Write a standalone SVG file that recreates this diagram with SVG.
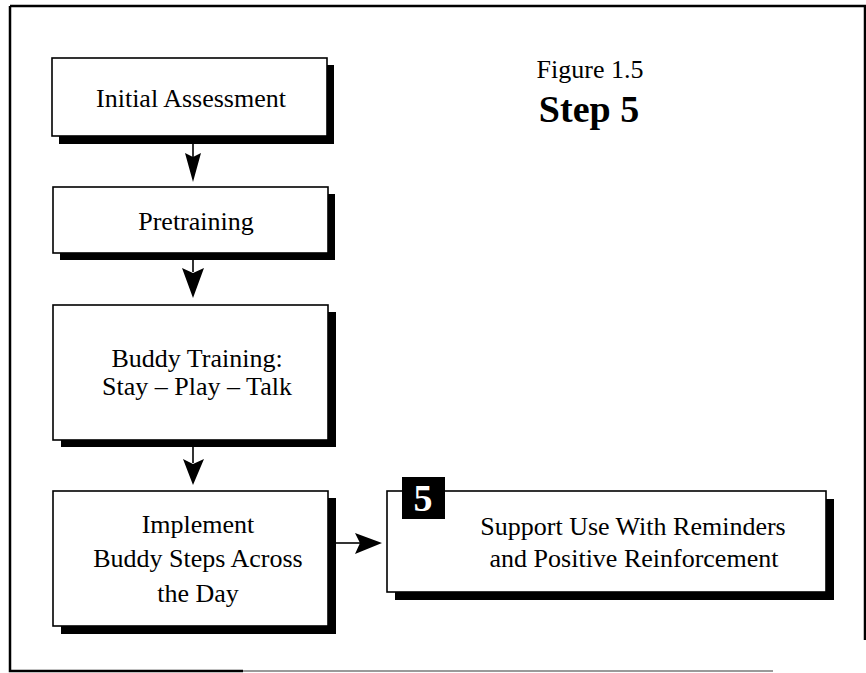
<svg xmlns="http://www.w3.org/2000/svg" width="866" height="673" viewBox="0 0 866 673">
<style>
.shadow{fill:#000}
.box{fill:#fff;stroke:#000;stroke-width:1.6}
.t{font-family:"Liberation Serif","Times New Roman",serif;font-size:26px;fill:#000;text-anchor:middle}
.line{stroke:#000;stroke-width:1.6;fill:none}
.head{fill:#000}
</style>
<rect width="866" height="673" fill="#fff"/>
<g id="frame">
<path d="M10,6 L865,6 L865,640 M10,6 L10,671 L243,671" fill="none" stroke="#000" stroke-width="2.5"/>
<path d="M243,671 L773,671" fill="none" stroke="#9a9a9a" stroke-width="2"/>
</g>
<g id="title">
<text class="t" x="590" y="78">Figure 1.5</text>
<text class="t" x="589" y="122" style="font-size:38px;font-weight:bold">Step 5</text>
</g>
<g id="connectors">
<line class="line" x1="193" y1="136" x2="193" y2="158"/>
<path class="head" d="M185,153 L193,157 L201,153 L193,182 Z"/>
<line class="line" x1="193" y1="253" x2="193" y2="272"/>
<path class="head" d="M182,268 L193,273 L204,268 L193,298 Z"/>
<line class="line" x1="193" y1="440" x2="193" y2="463"/>
<path class="head" d="M183,459 L193,464 L204,459 L193,485 Z"/>
<line class="line" x1="336" y1="543" x2="360" y2="543"/>
<path class="head" d="M355,533 L360,543 L355,554 L382,543 Z"/>
</g>
<g id="n1">
<rect class="shadow" x="59" y="65" width="275" height="79"/>
<rect class="box" x="52" y="58" width="275" height="78"/>
<text class="t" x="191" y="107">Initial Assessment</text>
</g>
<g id="n2">
<rect class="shadow" x="60" y="194" width="275" height="66"/>
<rect class="box" x="53" y="187" width="275" height="66"/>
<text class="t" x="196" y="230">Pretraining</text>
</g>
<g id="n3">
<rect class="shadow" x="61" y="312" width="275" height="135"/>
<rect class="box" x="53" y="305" width="275" height="135"/>
<text class="t" x="197" y="367">Buddy Training:</text>
<text class="t" x="197" y="395">Stay – Play – Talk</text>
</g>
<g id="n4">
<rect class="shadow" x="61" y="498" width="275" height="136"/>
<rect class="box" x="53" y="491" width="275" height="135"/>
<text class="t" x="198" y="533">Implement</text>
<text class="t" x="198" y="567">Buddy Steps Across</text>
<text class="t" x="198" y="602">the Day</text>
</g>
<g id="n5">
<rect class="shadow" x="395" y="499" width="439" height="101"/>
<rect class="box" x="387" y="491" width="439" height="101"/>
<rect x="402" y="477" width="43" height="42" fill="#000"/>
<text class="t" x="423" y="511" style="font-size:38px;font-weight:bold;fill:#fff">5</text>
<text class="t" x="633" y="535">Support Use With Reminders</text>
<text class="t" x="634" y="567">and Positive Reinforcement</text>
</g>
</svg>
